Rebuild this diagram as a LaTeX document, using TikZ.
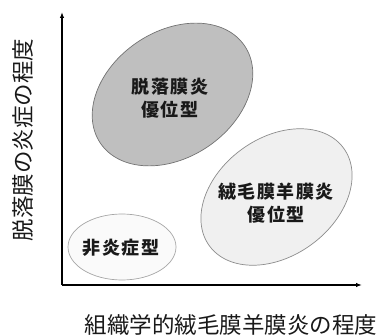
\documentclass[tikz,border=0pt]{standalone}
\usepackage{fontspec}
\newfontfamily\cjk{Noto Sans CJK JP}
\newfontfamily\cjklab[LetterSpace=8]{Noto Sans CJK JP}
\usetikzlibrary{arrows.meta}

\begin{document}
\begin{tikzpicture}[x=1pt,y=1pt,
    axis/.style={line width=1.3pt,-{Latex[length=6pt,width=4.5pt]}},
    zone/.style={line width=0.7pt},
    zonelabel/.style={font=\cjklab\bfseries\fontsize{18}{23}\selectfont,
      align=center,text=black!90,inner sep=0pt},
    axislabel/.style={font=\cjk\fontsize{22.5}{24}\selectfont,text=black!90,inner sep=0pt}]
    \useasboundingbox (0,0) rectangle (382,-336);
    % axes
    \coordinate (O) at (62,-285);
    \coordinate (ytop) at (62,-12);
    \coordinate (xend) at (362,-285);
    \draw[axis] (O) -- (ytop);
    \draw[axis] (O) -- (xend);
    % zones
    \draw[zone,draw=black!55,fill=black!25,rotate around={34:(172.5,-94.5)}]
      (172.5,-94.5) ellipse (87 and 63);
    \draw[zone,draw=black!45,fill=black!6,rotate around={36:(276.5,-197)}]
      (276.5,-197) ellipse (83 and 59);
    \draw[zone,draw=black!35,fill=black!2] (122,-247) ellipse (54 and 33);
    \node[zonelabel] (decid) at (170,-98) {脱落膜炎\\優位型};
    \node[zonelabel] (chorio) at (276,-203) {絨毛膜羊膜炎\\優位型};
    \node[zonelabel] (noninf) at (121,-248) {非炎症型};
    % axis labels
    \node[axislabel,rotate=90] (ylab) at (23,-140) {脱落膜の炎症の程度};
    \node[axislabel] (xlab) at (231,-325) {組織学的絨毛膜羊膜炎の程度};
\end{tikzpicture}
\end{document}
